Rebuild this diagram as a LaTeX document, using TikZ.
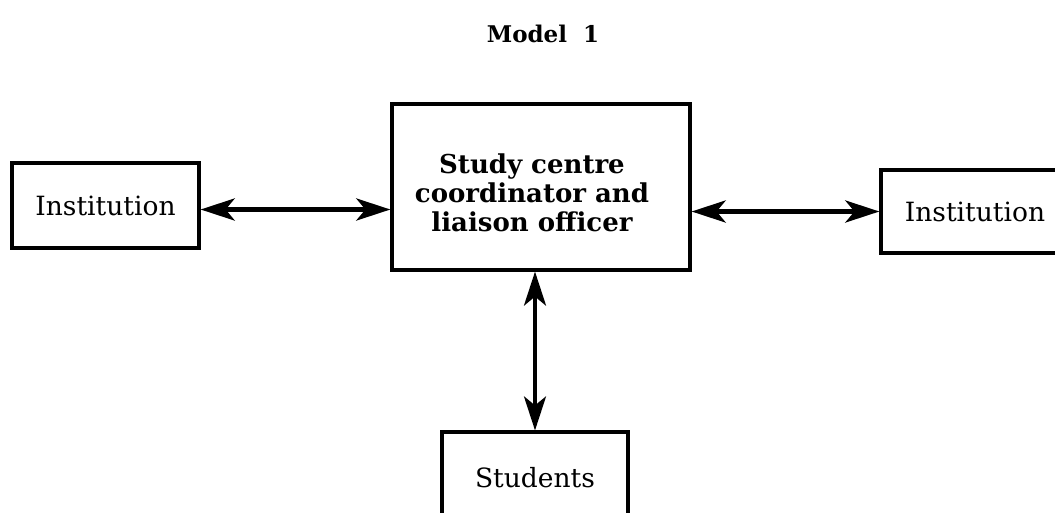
\documentclass[tikz,border=0pt]{standalone}
\usepackage{fontspec}
\setmainfont{DejaVu Serif}
\usetikzlibrary{arrows.meta}
\begin{document}
\begin{tikzpicture}[x=1pt,y=-1pt,
  box/.style={draw=black, line width=3.2pt, fill=white, inner sep=0pt,
              font=\fontsize{26.5}{30}\selectfont},
  link/.style={line width=4.4pt, {Stealth[length=34pt,width=22pt,inset=9pt]}-{Stealth[length=34pt,width=22pt,inset=9pt]}},
  coordlabel/.style={align=center, font=\bfseries\fontsize{26}{29}\selectfont}]
  \useasboundingbox (0,0) rectangle (1055,512);
  \clip (0,0) rectangle (1055,512);

  % title
  \node[font=\bfseries\fontsize{23}{26}\selectfont] (title) at (543,34) {Model\hspace{0.7em}1};

  % boxes
  \node[box, minimum width=187pt, minimum height=85pt] (lbox) at (105.5,205.5) {Institution};
  \node[box, minimum width=298pt, minimum height=166pt,
        label={[coordlabel, xshift=-9pt, yshift=-6pt]center:Study centre\\coordinator and\\liaison officer}]
        (coord) at (541,187) {};
  \node[box, minimum width=188pt, minimum height=83pt] (rbox) at (975,211.5) {Institution};
  \node[box, minimum width=186pt, minimum height=92pt] (stud) at (535,478) {Students};

  % connectors
  \draw[link] ([yshift=-4pt]lbox.east) -- ([yshift=-4pt]lbox.east -| coord.west);
  \draw[link] (rbox.west -| coord.east) -- (rbox.west);
  \draw[link, line width=3.6pt] (stud.north |- coord.south) -- (stud.north);
\end{tikzpicture}
\end{document}
